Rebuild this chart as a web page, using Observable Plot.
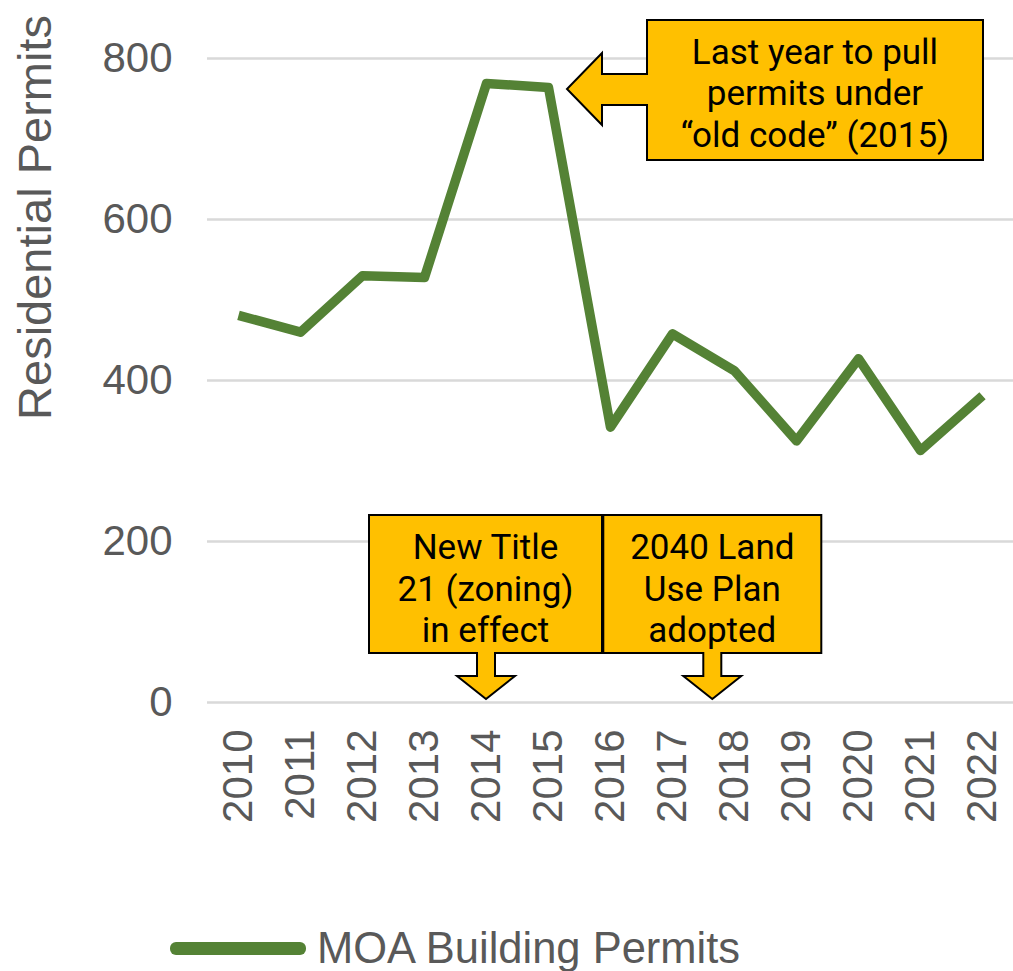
<!DOCTYPE html>
<html><head><meta charset="utf-8">
<script src="https://cdn.jsdelivr.net/npm/d3@7"></script>
<script src="https://cdn.jsdelivr.net/npm/@observablehq/plot@0.6"></script>
<style>
body{margin:0;background:#fff;}
#wrap{position:relative;width:1013px;height:971px;overflow:hidden;}
#legend{position:absolute;left:170px;top:926px;display:flex;align-items:center;font-family:"Liberation Sans",Arial,sans-serif;font-size:43.5px;color:#595959;line-height:44px;height:44px;}
#legend .sw{display:inline-block;width:136px;height:13px;background:#548235;border-radius:6px;margin-right:11px;}
</style></head><body>
<div id="wrap"><div id="chart"></div><div id="legend"><span class="sw"></span><span id="legtext"></span></div></div>
<script>
const years = [2010, 2011, 2012, 2013, 2014, 2015, 2016, 2017, 2018, 2019, 2020, 2021, 2022];
const permits = [481, 460, 530, 528, 769, 764, 342, 458, 412, 325, 427, 313, 381];
const yTicks = [0, 200, 400, 600, 800];
const seriesName = "MOA Building Permits";
const yTitle = "Residential Permits";
const noteTexts = [
  ["Last year to pull", "permits under", "\u201Cold code\u201D (2015)"],
  ["New Title", "21 (zoning)", "in effect"],
  ["2040 Land", "Use Plan", "adopted"]
];
const noteYears = [2015, 2014, 2017.65];
const noteValues = [764, 0, 0];

const data = years.map((yr, i) => ({year: yr, value: permits[i]}));
document.getElementById("legtext").textContent = seriesName;

function callouts(index, scales) {
  const x = scales.x, y = scales.y;
  const g = d3.create("svg:g");
  const fill = "#FFC000";
  const font = "Roboto, 'Open Sans', sans-serif";
  function addText(cx, top, lines) {
    lines.forEach((l, i) => g.append("text").attr("text-anchor", "middle").attr("font-family", font)
      .attr("font-size", 35).attr("fill", "#000").attr("x", cx).attr("y", top + 44 + i * 41.5).text(l));
  }
  // top callout: left-pointing arrow
  {
    const tx = x(noteYears[0]) + 19, ty = y(noteValues[0]) + 2;
    const L = tx + 80, R = tx + 416, T = ty - 69, B = ty + 71, hx = tx + 35;
    g.append("path").attr("d",
      `M${L},${T}H${R}V${B}H${L}V${ty + 16}H${hx}V${ty + 36}L${tx},${ty}L${hx},${ty - 36}V${ty - 15}H${L}Z`)
      .attr("fill", fill).attr("stroke", "#000").attr("stroke-width", 2).attr("stroke-linejoin", "miter");
    addText((L + R) / 2, T, noteTexts[0]);
  }
  // down callouts
  const halves = [[117, 116], [109, 109]];
  for (let k = 1; k <= 2; k++) {
    const tx = x(noteYears[k]), ty = y(noteValues[k]) - 3;
    const L = tx - halves[k - 1][0], R = tx + halves[k - 1][1], T = ty - 184, B = ty - 46, hy = ty - 23;
    g.append("path").attr("d",
      `M${L},${T}H${R}V${B}H${tx + 9}V${hy}H${tx + 29}L${tx},${ty}L${tx - 29},${hy}H${tx - 9}V${B}H${L}Z`)
      .attr("fill", fill).attr("stroke", "#000").attr("stroke-width", 2);
    addText((L + R) / 2, T, noteTexts[k]);
  }
  return g.node();
}

const chart = Plot.plot({
  width: 1013,
  height: 880,
  marginLeft: 207,
  marginRight: 0,
  marginTop: 58,
  marginBottom: 178,
  style: {fontFamily: "'Liberation Sans', Arial, sans-serif", fontSize: "42px", color: "#595959", background: "#fff", overflow: "visible"},
  x: {domain: [2009.5, 2022.5], ticks: years, tickFormat: d => String(d), tickRotate: -90, tickSize: 0, tickPadding: 27, label: null},
  y: {domain: [0, 800], ticks: yTicks, tickSize: 0, tickPadding: 35, label: null},
  marks: [
    Plot.ruleY(yTicks, {stroke: "#d9d9d9", strokeWidth: 2.5}),
    Plot.line(data, {x: "year", y: "value", stroke: "#548235", strokeWidth: 9.5, strokeLinejoin: "round", strokeLinecap: "butt"}),
    callouts,
    Plot.text([yTitle], {frameAnchor: "top-left", dx: -172, dy: 159, rotate: -90, textAnchor: "middle", lineAnchor: "middle", fontSize: 47, fill: "#595959"})
  ]
});
document.getElementById("chart").appendChild(chart);
</script>
</body></html>
